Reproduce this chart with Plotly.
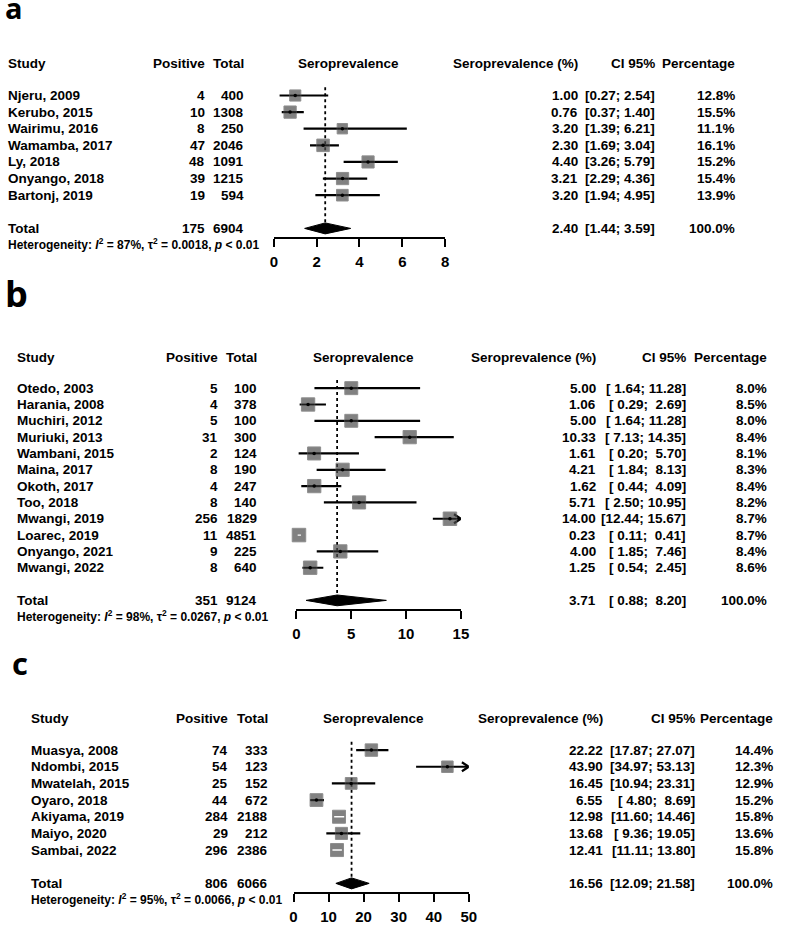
import plotly.graph_objects as go

W, H = 785, 925
FONT = "Liberation Sans, Arial, sans-serif"

# ---------------- Panel a data ----------------
studies_a = ["Njeru, 2009", "Kerubo, 2015", "Wairimu, 2016", "Wamamba, 2017",
             "Ly, 2018", "Onyango, 2018", "Bartonj, 2019"]
positive_a = [4, 10, 8, 47, 48, 39, 19]
total_a = [400, 1308, 250, 2046, 1091, 1215, 594]
est_a = [1.00, 0.76, 3.20, 2.30, 4.40, 3.21, 3.20]
lo_a = [0.27, 0.37, 1.39, 1.69, 3.26, 2.29, 1.94]
hi_a = [2.54, 1.40, 6.21, 3.04, 5.79, 4.36, 4.95]
weight_a = [12.8, 15.5, 11.1, 16.1, 15.2, 15.4, 13.9]
pooled_a = [175, 6904, 2.40, 1.44, 3.59, 100.0]   # positive, total, est, lo, hi, weight
het_a = ["87%", "0.0018", "< 0.01"]
ticks_a = [0, 2, 4, 6, 8]

# ---------------- Panel b data ----------------
studies_b = ["Otedo, 2003", "Harania, 2008", "Muchiri, 2012", "Muriuki, 2013",
             "Wambani, 2015", "Maina, 2017", "Okoth, 2017", "Too, 2018",
             "Mwangi, 2019", "Loarec, 2019", "Onyango, 2021", "Mwangi, 2022"]
positive_b = [5, 4, 5, 31, 2, 8, 4, 8, 256, 11, 9, 8]
total_b = [100, 378, 100, 300, 124, 190, 247, 140, 1829, 4851, 225, 640]
est_b = [5.00, 1.06, 5.00, 10.33, 1.61, 4.21, 1.62, 5.71, 14.00, 0.23, 4.00, 1.25]
lo_b = [1.64, 0.29, 1.64, 7.13, 0.20, 1.84, 0.44, 2.50, 12.44, 0.11, 1.85, 0.54]
hi_b = [11.28, 2.69, 11.28, 14.35, 5.70, 8.13, 4.09, 10.95, 15.67, 0.41, 7.46, 2.45]
weight_b = [8.0, 8.5, 8.0, 8.4, 8.1, 8.3, 8.4, 8.2, 8.7, 8.7, 8.4, 8.6]
pooled_b = [351, 9124, 3.71, 0.88, 8.20, 100.0]
het_b = ["98%", "0.0267", "< 0.01"]
ticks_b = [0, 5, 10, 15]

# ---------------- Panel c data ----------------
studies_c = ["Muasya, 2008", "Ndombi, 2015", "Mwatelah, 2015", "Oyaro, 2018",
             "Akiyama, 2019", "Maiyo, 2020", "Sambai, 2022"]
positive_c = [74, 54, 25, 44, 284, 29, 296]
total_c = [333, 123, 152, 672, 2188, 212, 2386]
est_c = [22.22, 43.90, 16.45, 6.55, 12.98, 13.68, 12.41]
lo_c = [17.87, 34.97, 10.94, 4.80, 11.60, 9.36, 11.11]
hi_c = [27.07, 53.13, 23.31, 8.69, 14.46, 19.05, 13.80]
weight_c = [14.4, 12.3, 12.9, 15.2, 15.8, 13.6, 15.8]
pooled_c = [806, 6066, 16.56, 12.09, 21.58, 100.0]
het_c = ["95%", "0.0066", "< 0.01"]
ticks_c = [0, 10, 20, 30, 40, 50]

headers = ["Study", "Positive", "Total", "Seroprevalence", "Seroprevalence (%)", "CI 95%", "Percentage"]
panel_labels = ["a", "b", "c"]

# ---------------- layout parameters (pixels) ----------------
panels = [
    dict(data=(studies_a, positive_a, total_a, est_a, lo_a, hi_a, weight_a, pooled_a, het_a, ticks_a),
         first=95.7, sp=16.65, ax=(274, 448), label=(0, 22, 29), sq=12.5,
         cols=dict(study=3, pos=205, tot=245, fh=350, est=584, ci=662, pct=743)),
    dict(data=(studies_b, positive_b, total_b, est_b, lo_b, hi_b, weight_b, pooled_b, het_b, ticks_b),
         first=389.0, sp=16.36, ax=(297, 464), label=(0, 312, 36), sq=13.5,
         cols=dict(study=12, pos=218, tot=258, fh=365, est=602, ci=694, pct=776)),
    dict(data=(studies_c, positive_c, total_c, est_c, lo_c, hi_c, weight_c, pooled_c, het_c, ticks_c),
         first=751.7, sp=16.7, ax=(294, 472), label=(7, 680, 31), sq=13.0,
         cols=dict(study=26, pos=229, tot=269, fh=375, est=609, ci=703, pct=782)),
]

NB = "\u00a0"


def fx(px):
    return px / W


def fy(py):
    return 1 - py / H


def fmt_ci(lo, hi, wl, wh):
    l = f"{lo:.2f}".rjust(wl).replace(" ", NB)
    h = f"{hi:.2f}".rjust(wh).replace(" ", NB)
    return f"[{l};{NB}{h}]"


fig = go.Figure()
annotations = []
layout_axes = {}


def ann(text, xpx, row, yref, anchor, size=13.5):
    annotations.append(dict(text=text, x=fx(xpx), xref="paper", y=row, yref=yref,
                            xanchor=anchor, yanchor="middle", showarrow=False, borderpad=0,
                            font=dict(family=FONT, size=size, color="black", weight="bold")))


for k, p in enumerate(panels):
    studies, pos, tot, est, lo, hi, wt, pooled, het, ticks = p["data"]
    n = len(studies)
    sfx = "" if k == 0 else str(k + 1)
    xr, yr = "x" + sfx, "y" + sfx
    xmin, xmax = ticks[0], ticks[-1]
    rows = list(range(n))
    r_tot = n + 1
    top_row, bot_row = -2.5, n + 1.5
    top_px = p["first"] + top_row * p["sp"]
    bot_px = p["first"] + bot_row * p["sp"]
    ax0, ax1 = p["ax"]
    px_per_unit = (ax1 - ax0) / (xmax - xmin)
    row_per_px = 1 / p["sp"]

    layout_axes["yaxis" + sfx] = dict(domain=[fy(bot_px), fy(top_px)], range=[bot_row, top_row],
                                      visible=False, fixedrange=True)
    layout_axes["xaxis" + sfx] = dict(domain=[fx(ax0), fx(ax1)], range=[xmin, xmax], anchor=yr,
                                      tickvals=ticks, ticks="outside", ticklen=8, tickwidth=2,
                                      tickcolor="black", showline=True, linewidth=2, linecolor="black",
                                      showgrid=False, zeroline=False, fixedrange=True,
                                      ticklabelstandoff=2,
                                      tickfont=dict(family=FONT, size=15, color="black", weight="bold"))

    sizes = [p["sq"] * (w / max(wt)) ** 0.5 for w in wt]
    inside = [(h - l) * px_per_unit < s for l, h, s in zip(lo, hi, sizes)]

    # pooled-estimate dotted reference line
    fig.add_trace(go.Scatter(x=[pooled[2], pooled[2]], y=[-0.5, r_tot], mode="lines",
                             line=dict(color="black", width=1.8, dash="dot"),
                             xaxis=xr, yaxis=yr, hoverinfo="skip"))

    # CI lines (black, under squares) + arrow heads for CIs beyond the axis
    lx, ly = [], []
    for r, l, h, ins in zip(rows, lo, hi, inside):
        if not ins:
            lx += [max(l, xmin), min(h, xmax), None]
            ly += [r, r, None]
        if h > xmax:
            dx = 7 / px_per_unit
            dy = 4.5 * row_per_px
            lx += [xmax - dx, xmax, xmax - dx, None]
            ly += [r - dy, r, r + dy, None]
    fig.add_trace(go.Scatter(x=lx, y=ly, mode="lines", line=dict(color="black", width=2.2),
                             xaxis=xr, yaxis=yr, hoverinfo="skip", cliponaxis=False))

    # weight squares
    fig.add_trace(go.Scatter(x=est, y=rows, mode="markers",
                             marker=dict(symbol="square", size=sizes, color="#4c4c4c",
                                         line=dict(color="#5e5e5e", width=1)),
                             xaxis=xr, yaxis=yr, cliponaxis=False, hoverinfo="skip"))

    # CI lines through the square: dark over square, white when CI fits inside it
    ox, oy, wx, wy = [], [], [], []
    for r, e, l, h, s, ins in zip(rows, est, lo, hi, sizes, inside):
        half = s / 2 / px_per_unit
        if ins:
            wx += [l, h, None]
            wy += [r, r, None]
        else:
            ox += [max(l, e - half), min(h, e + half), None]
            oy += [r, r, None]
    fig.add_trace(go.Scatter(x=ox, y=oy, mode="lines", line=dict(color="#1e1e1e", width=1.2),
                             xaxis=xr, yaxis=yr, hoverinfo="skip", cliponaxis=False))
    if wx:
        fig.add_trace(go.Scatter(x=wx, y=wy, mode="lines", line=dict(color="white", width=1.4),
                                 xaxis=xr, yaxis=yr, hoverinfo="skip", cliponaxis=False))
    dots = [(e, r) for e, r, ins in zip(est, rows, inside) if not ins]
    fig.add_trace(go.Scatter(x=[d[0] for d in dots], y=[d[1] for d in dots], mode="markers",
                             marker=dict(symbol="circle", size=3.5, color="black"),
                             xaxis=xr, yaxis=yr, cliponaxis=False, hoverinfo="skip"))

    # pooled diamond
    hh = 0.33
    fig.add_trace(go.Scatter(x=[pooled[3], pooled[2], pooled[4], pooled[2], pooled[3]],
                             y=[r_tot, r_tot - hh, r_tot, r_tot + hh, r_tot],
                             mode="lines", fill="toself", fillcolor="black",
                             line=dict(color="black", width=1), xaxis=xr, yaxis=yr,
                             hoverinfo="skip"))

    # text columns
    c = p["cols"]
    hr = -1.9
    ann(headers[0], c["study"], hr, yr, "left")
    ann(headers[1], c["pos"], hr, yr, "right")
    ann(headers[2], c["tot"], hr, yr, "right")
    ann(headers[3], c["fh"], hr, yr, "center")
    ann(headers[4], c["est"], hr, yr, "right")
    ann(headers[5], c["ci"], hr, yr, "right")
    ann(headers[6], c["pct"], hr, yr, "right")

    wl = max(len(f"{v:.2f}") for v in lo + [pooled[3]])
    wh = max(len(f"{v:.2f}") for v in hi + [pooled[4]])
    for r, s, ps, t, e, l, h, w in zip(rows, studies, pos, tot, est, lo, hi, wt):
        ann(s, c["study"], r, yr, "left")
        ann(str(ps), c["pos"], r, yr, "right")
        ann(str(t), c["tot"], r, yr, "right")
        ann(f"{e:.2f}", c["est"], r, yr, "right")
        ann(fmt_ci(l, h, wl, wh), c["ci"], r, yr, "right")
        ann(f"{w:.1f}%", c["pct"], r, yr, "right")

    ann("Total", c["study"], r_tot, yr, "left")
    ann(str(pooled[0]), c["pos"], r_tot, yr, "right")
    ann(str(pooled[1]), c["tot"], r_tot, yr, "right")
    ann(f"{pooled[2]:.2f}", c["est"], r_tot, yr, "right")
    ann(fmt_ci(pooled[3], pooled[4], wl, wh), c["ci"], r_tot, yr, "right")
    ann(f"{pooled[5]:.1f}%", c["pct"], r_tot, yr, "right")

    # heterogeneity line (below the axis range, so placed in paper coordinates)
    het_txt = (f"Heterogeneity: <i>I</i><sup>2</sup> = {het[0]}, "
               f"\u03c4<sup>2</sup> = {het[1]}, <i>p</i> {het[2].replace('<', '&lt;')}")
    het_px = p["first"] + (r_tot + 0.95) * p["sp"]
    annotations.append(dict(text=het_txt, x=fx(c["study"]), xref="paper", y=fy(het_px),
                            yref="paper", xanchor="left", yanchor="middle", showarrow=False,
                            borderpad=0,
                            font=dict(family=FONT, size=12, color="black", weight="bold")))

    # panel label
    lx0, lbase, lsize = p["label"]
    annotations.append(dict(text=panel_labels[k], x=fx(lx0), y=fy(lbase + 0.22 * lsize),
                            xref="paper", yref="paper", xanchor="left", yanchor="bottom",
                            showarrow=False, borderpad=0,
                            font=dict(family="Open Sans, DejaVu Sans, sans-serif", size=lsize,
                                      color="black", weight="bold")))

fig.update_layout(width=W, height=H, margin=dict(l=0, r=0, t=0, b=0),
                  paper_bgcolor="white", plot_bgcolor="white", showlegend=False,
                  annotations=annotations, **layout_axes)

fig.write_html("out.html", config={"displayModeBar": False},
               post_script="document.body.style.margin='0px';")
